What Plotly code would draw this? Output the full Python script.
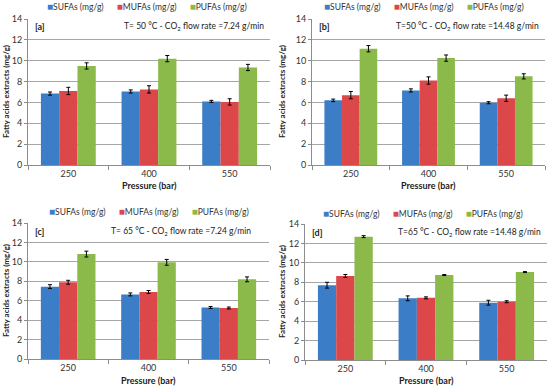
import plotly.graph_objects as go

pressures = ["250", "400", "550"]
series_names = ["SUFAs (mg/g)", "MUFAs (mg/g)", "PUFAs (mg/g)"]
colors = ["#3b7dc6", "#dc474a", "#8cba4a"]

# panel a: T=50 C, 7.24 g/min
a_sufa = [6.85, 7.05, 6.10]
a_mufa = [7.10, 7.25, 6.05]
a_pufa = [9.50, 10.20, 9.35]
a_sufa_err = [0.15, 0.15, 0.10]
a_mufa_err = [0.35, 0.35, 0.30]
a_pufa_err = [0.30, 0.30, 0.30]

# panel b: T=50 C, 14.48 g/min
b_sufa = [6.20, 7.15, 5.97]
b_mufa = [6.70, 8.10, 6.40]
b_pufa = [11.15, 10.25, 8.50]
b_sufa_err = [0.12, 0.15, 0.10]
b_mufa_err = [0.35, 0.35, 0.30]
b_pufa_err = [0.30, 0.30, 0.25]

# panel c: T=65 C, 7.24 g/min
c_sufa = [7.45, 6.65, 5.30]
c_mufa = [7.90, 6.90, 5.25]
c_pufa = [10.80, 9.95, 8.20]
c_sufa_err = [0.20, 0.15, 0.10]
c_mufa_err = [0.20, 0.15, 0.10]
c_pufa_err = [0.30, 0.30, 0.25]

# panel d: T=65 C, 14.48 g/min
d_sufa = [7.70, 6.35, 5.90]
d_mufa = [8.65, 6.40, 6.00]
d_pufa = [12.70, 8.75, 9.05]
d_sufa_err = [0.30, 0.25, 0.25]
d_mufa_err = [0.15, 0.10, 0.10]
d_pufa_err = [0.10, 0.05, 0.05]

y_ticks = [0, 2, 4, 6, 8, 10, 12, 14]

panels = [
    ("[a]", "T= 50 °C - CO<sub>2</sub> flow rate =7.24 g/min",
     [a_sufa, a_mufa, a_pufa], [a_sufa_err, a_mufa_err, a_pufa_err]),
    ("[b]", "T=50 °C - CO<sub>2</sub> flow rate =14.48 g/min",
     [b_sufa, b_mufa, b_pufa], [b_sufa_err, b_mufa_err, b_pufa_err]),
    ("[c]", "T= 65 °C - CO<sub>2</sub> flow rate =7.24 g/min",
     [c_sufa, c_mufa, c_pufa], [c_sufa_err, c_mufa_err, c_pufa_err]),
    ("[d]", "T=65 °C - CO<sub>2</sub> flow rate =14.48 g/min",
     [d_sufa, d_mufa, d_pufa], [d_sufa_err, d_mufa_err, d_pufa_err]),
]

W, H = 550, 388
# pixel boxes: left, right, top, bottom
boxes = [(28, 270, 19, 165), (312, 545, 19, 165), (28, 269, 223, 359), (305, 547, 224, 360)]
legend_pos = [(147, 6), (424, 6), (149, 211), (423, 213)]
xtitle_y = [185, 185, 380, 380]
ytitle_x = [6, 282, 6, 282]
note_right = [266, 541, 253, 543]

FONT = "Lato"
NB = "\u00a0"
legend_text = (NB * 6).join(
    "<span style='color:%s;font-size:10px'>■</span>%s" % (c, n.replace(" ", NB))
    for c, n in zip(colors, series_names))

fig = go.Figure()
layout = dict(width=W, height=H, margin=dict(l=0, r=0, t=0, b=0, autoexpand=False),
              paper_bgcolor="white", plot_bgcolor="white", showlegend=False,
              barmode="group", bargap=0.32, bargroupgap=0.0,
              font=dict(family=FONT, size=9, color="#333333"),
              annotations=[])

for i, (tag, note, vals, errs) in enumerate(panels):
    k = "" if i == 0 else str(i + 1)
    xa, ya = "x" + k, "y" + k
    for s in range(3):
        fig.add_trace(go.Bar(
            x=pressures, y=vals[s], name=series_names[s],
            marker=dict(color=colors[s], line=dict(width=0)),
            error_y=dict(type="data", array=errs[s], color="black", thickness=1, width=2),
            xaxis=xa, yaxis=ya, offsetgroup=str(s),
        ))
    l, r, t, b = boxes[i]
    layout["xaxis" + k] = dict(
        domain=[l / W, r / W], anchor=ya, showline=True, linecolor="#8c8c8c", linewidth=1,
        ticks="outside", ticklen=4, tickcolor="#8c8c8c", tickson="boundaries",
        tickfont=dict(size=9, color="#333333"), showgrid=False)
    layout["yaxis" + k] = dict(
        domain=[1 - b / H, 1 - t / H], anchor=xa, range=[0, 14], tickvals=y_ticks,
        showline=True, linecolor="#8c8c8c", linewidth=1, ticks="outside", ticklen=3,
        tickcolor="#8c8c8c", showgrid=True, gridcolor="#a6a6a6", gridwidth=1,
        tickfont=dict(size=9, color="#333333"), zeroline=False)
    lx, ly = legend_pos[i]
    layout["annotations"] += [
        dict(text=legend_text, x=lx / W, y=1 - ly / H, xref="paper", yref="paper",
             xanchor="center", yanchor="middle", showarrow=False, font=dict(size=8.5, color="#333333")),
        dict(text="<b>" + tag + "</b>", x=(l + 5) / W, y=1 - (t + 8) / H, xref="paper", yref="paper",
             xanchor="left", yanchor="middle", showarrow=False, font=dict(size=9, color="#222222")),
        dict(text=note, x=note_right[i] / W, y=1 - (t + 8) / H, xref="paper", yref="paper",
             xanchor="right", yanchor="middle", showarrow=False, font=dict(size=8.5, color="#222222")),
        dict(text="<b>Pressure (bar)</b>", x=(l + r) / 2 / W, y=1 - xtitle_y[i] / H, xref="paper",
             yref="paper", xanchor="center", yanchor="middle", showarrow=False,
             font=dict(size=9, color="#222222")),
        dict(text="<b>Fatty acids extracts (mg/g)</b>", x=ytitle_x[i] / W, y=1 - (t + b) / 2 / H,
             xref="paper", yref="paper", xanchor="center", yanchor="middle", textangle=-90,
             showarrow=False, font=dict(size=8, color="#222222")),
    ]

fig.update_layout(**layout)
fig.write_html("out.html", config={"displayModeBar": False},
               post_script="document.body.style.margin='0';document.body.style.overflow='hidden';")
